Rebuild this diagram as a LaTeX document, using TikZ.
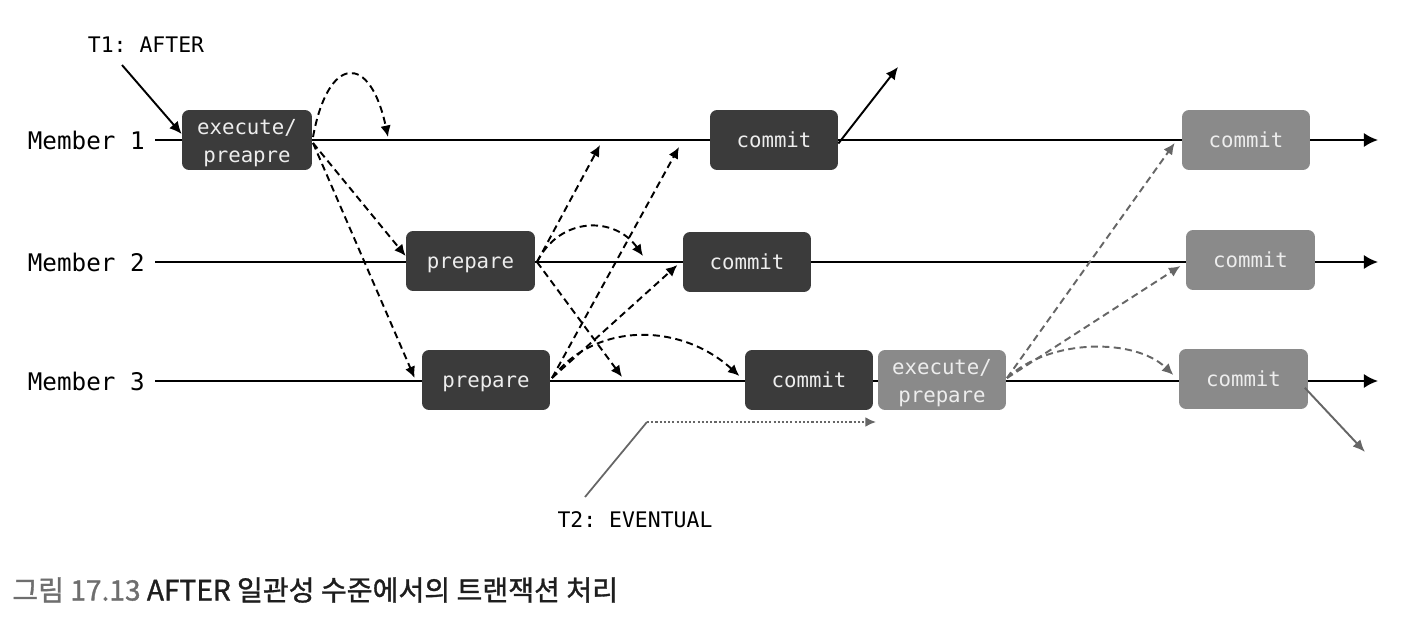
\documentclass[tikz,border=0pt]{standalone}
\usepackage{fontspec}
\setmonofont{DejaVu Sans Mono}
\newfontfamily\kr[FakeBold=1.2]{Noto Sans CJK KR}
\usetikzlibrary{arrows.meta}
\definecolor{boxdark}{HTML}{3B3B3B}
\definecolor{boxgray}{HTML}{8A8A8A}
\definecolor{arrgray}{HTML}{666666}
\definecolor{captgray}{HTML}{6E6E6E}
\definecolor{captdark}{HTML}{1E1E1E}
\definecolor{boxtext}{HTML}{EDEDED}
\begin{document}
\begin{tikzpicture}[x=0.02cm,y=-0.02cm,
 box/.style={rounded corners=4pt, minimum width=2.56cm, minimum height=1.2cm, text=boxtext, font=\ttfamily\fontsize{11.8}{15.5}\selectfont, align=center, inner sep=0pt},
 one/.style={text height=9pt, text depth=0pt},
 dbox/.style={box, fill=boxdark},
 gbox/.style={box, fill=boxgray},
 lbl/.style={font=\ttfamily\fontsize{13.8}{16}\selectfont, text=black, inner sep=0pt},
 tl/.style={font=\ttfamily\fontsize{12.2}{14}\selectfont, text=black, inner sep=0pt},
 seg/.style={line width=1.1pt},
 axis/.style={seg, -{Latex[length=8pt,width=8pt]}},
 solidarr/.style={seg, -{Latex[length=7pt,width=6.5pt]}},
 darr/.style={line width=1.1pt, dash pattern=on 4pt off 2.5pt, -{Latex[length=6.5pt,width=6pt]}},
 garr/.style={darr, draw=arrgray},
]
\useasboundingbox (0,0) rectangle (1418,622);

% labels
\node[lbl, anchor=east] (m1) at (145,140) {Member 1};
\node[lbl, anchor=east] (m2) at (145,262) {Member 2};
\node[lbl, anchor=east] (m3) at (145,381) {Member 3};
\coordinate (m1s) at (155,140);
\coordinate (m2s) at (155,262);
\coordinate (m3s) at (155,381);
\coordinate (m1e) at (1378,140);
\coordinate (m2e) at (1378,262);
\coordinate (m3e) at (1378,381);

% boxes
\node[dbox, minimum width=2.6cm] (e1) at (247,140) {\rule{0pt}{12pt}execute/\\preapre};
\node[dbox, one, minimum width=2.58cm] (p2) at (470.5,261) {prepare};
\node[dbox, one] (p3) at (486,380) {prepare};
\node[dbox, one] (c1) at (774,140) {commit};
\node[dbox, one] (c2) at (747,262) {commit};
\node[dbox, one] (c3) at (809,380) {commit};
\node[gbox] (e3) at (942,380) {\rule{0pt}{12pt}execute/\\prepare};
\node[gbox, one] (g1) at (1246,140) {commit};
\node[gbox, one, minimum width=2.58cm] (g2) at (1250.5,260) {commit};
\node[gbox, one, minimum width=2.58cm] (g3) at (1243.5,379) {commit};

% timelines
\draw[seg] (m1s) -- (e1.west |- m1s) (e1.east |- m1s) -- (c1.west |- m1s) (c1.east |- m1s) -- (g1.west |- m1s);
\draw[axis] (g1.east |- m1s) -- (m1e);
\draw[seg] (m2s) -- (p2.west |- m2s) (p2.east |- m2s) -- (c2.west |- m2s) (c2.east |- m2s) -- (g2.west |- m2s);
\draw[axis] (g2.east |- m2s) -- (m2e);
\draw[seg] (m3s) -- (p3.west |- m3s) (p3.east |- m3s) -- (c3.west |- m3s) (c3.east |- m3s) -- (e3.west |- m3s) (e3.east |- m3s) -- (g3.west |- m3s);
\draw[axis] (g3.east |- m3s) -- (m3e);

% T1
\node[tl] (t1) at (146,45) {T1: AFTER};
\coordinate (t1s) at (122,65);
\draw[solidarr] (t1s) -- (e1.west |- 0,134);

% from e1
\coordinate (e1o) at (313,143);
\coordinate (lp) at (388,137);
\draw[darr] (313,137) .. controls (328,55) and (370,52) .. (lp);
\draw[darr] (e1o) -- (p2.west |- 0,256);
\draw[darr] (e1o) -- ([xshift=-4]p3.west |- 0,378);

% from p2
\coordinate (p2o) at (537,262);
\coordinate (a1) at (600,145);
\coordinate (a2) at (643,256);
\coordinate (a3) at (622,377);
\draw[darr] (p2o) -- (a1);
\draw[darr] (p2o) .. controls (560,216) and (615,216) .. (a2);
\draw[darr] (p2o) -- (a3);

% from p3
\coordinate (p3o) at (552,378);
\coordinate (b1) at (679,147);
\draw[darr] (p3o) -- (b1);
\draw[darr] (p3o) -- ([xshift=-3]c2.west |- 0,265);
\draw[darr] (p3o) .. controls (595,322) and (680,322) .. ([xshift=-3]c3.west |- 0,376);

% commit out
\coordinate (c1x) at (898,67);
\draw[solidarr] ([yshift=-2]c1.east) -- (c1x);

% from e3
\coordinate (e3o) at (1007,378);
\draw[garr] (e3o) -- ([xshift=-4]g1.west |- 0,143);
\draw[garr] (e3o) -- ([xshift=-3]g2.west |- 0,266);
\draw[garr] (e3o) .. controls (1050,338) and (1135,338) .. ([xshift=-3]g3.west |- 0,375);

\coordinate (g3x) at (1365,452);
\draw[draw=arrgray, -{Latex[length=7pt,width=6pt]}, line width=1.1pt] ([xshift=-2,yshift=-5]g3.east) -- (g3x);

% T2
\node[tl] (t2) at (635,520) {T2: EVENTUAL};
\coordinate (t2a) at (585,497);
\coordinate (t2b) at (647,422);
\coordinate (t2c) at (876,422);
\draw[draw=arrgray, line width=1pt] (t2a) -- (t2b);
\draw[draw=arrgray, line width=1pt, dash pattern=on 1.2pt off 1.2pt, -{Latex[length=6pt,width=5.5pt]}] (t2b) -- (t2c);

% caption
\node[anchor=west, inner sep=0pt, font=\kr\fontsize{16}{18}\selectfont] (cap) at (12,590) {\textcolor{captgray}{그림 17.13} \textcolor{captdark}{AFTER 일관성 수준에서의 트랜잭션 처리}};
\end{tikzpicture}
\end{document}
